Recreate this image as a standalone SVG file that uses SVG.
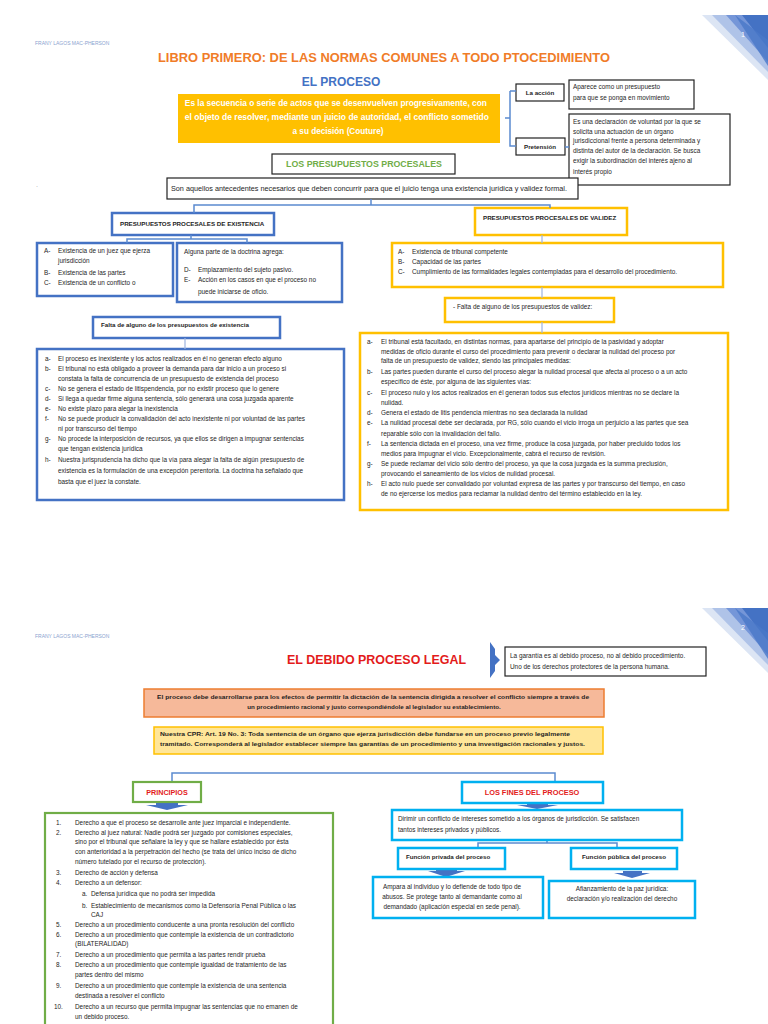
<svg xmlns="http://www.w3.org/2000/svg" width="768" height="1024" viewBox="0 0 768 1024">
<style>
.f{font-family:"Liberation Sans",Arial,sans-serif}
.t{font-family:"Liberation Sans",Arial,sans-serif;font-size:6.4px;fill:#1e1e1e}
.tb{font-family:"Liberation Sans",Arial,sans-serif;font-size:6.2px;fill:#1e1e1e;font-weight:bold}
.au{font-family:"Liberation Sans",Arial,sans-serif;font-size:5px;fill:#8aa3cf}
.pg{font-family:"Liberation Sans",Arial,sans-serif;font-size:7px;fill:#ffffff}
.bk{fill:#fff;stroke:#222;stroke-width:1.2}
.bl{fill:#fff;stroke:#4472C4;stroke-width:2.5}
.gd{fill:#fff;stroke:#FFC000;stroke-width:2.5}
.gr{fill:#fff;stroke:#70AD47;stroke-width:2.2}
.cy{fill:#fff;stroke:#00B0F0;stroke-width:2.5}
.ln{fill:none;stroke:#5B8BD0;stroke-width:1.5}
.lt{fill:none;stroke:#9DB5E0;stroke-width:1.2}
.ar{fill:#4472C4}
.red{font-family:"Liberation Sans",Arial,sans-serif;font-weight:bold;fill:#E31B1B}
</style>
<rect width="768" height="1024" fill="#fff"/>

<!-- Page 1 decoration -->
<g id="decor1">
<polygon points="702,15 768,15 768,80" fill="#DCE5F4"/>
<polygon points="712,15 768,15 768,72" fill="#AFC3E8"/>
<polygon points="726,15 768,15 768,62" fill="#7596D8"/>
<polygon points="742,15 768,15 768,48" fill="#4472C4"/>
<polygon points="735,15 768,40 768,66" fill="#4A78C8" opacity="0.8"/>
<text x="741" y="37" class="pg">1</text>
</g>
<text x="35" y="45" class="au">FRANY LAGOS MAC-PHERSON</text>

<g id="title1">
<text x="384" y="62" class="f" font-size="12.5" font-weight="bold" fill="#F07C28" text-anchor="middle" textLength="452" lengthAdjust="spacingAndGlyphs">LIBRO PRIMERO: DE LAS NORMAS COMUNES A TODO PTOCEDIMIENTO</text>
<text x="341" y="86" class="f" font-size="12" font-weight="bold" fill="#4472C4" text-anchor="middle">EL PROCESO</text>
</g>

<g id="def-proceso">
<rect x="178" y="94" width="322" height="49" fill="#FFC000"/>
<text class="f" font-size="8.2" font-weight="bold" fill="#fff" text-anchor="middle">
<tspan x="337" y="106" textLength="302" lengthAdjust="spacingAndGlyphs">Es la secuencia o serie de actos que se desenvuelven progresivamente, con</tspan>
<tspan x="338" y="120" textLength="304" lengthAdjust="spacingAndGlyphs">el objeto de resolver, mediante un juicio de autoridad, el conflicto sometido</tspan>
<tspan x="338" y="134">a su decisión (Couture)</tspan>
</text>
</g>

<g id="accion">
<rect x="516" y="84" width="48" height="17" class="bk"/>
<text x="540" y="95" class="tb" text-anchor="middle">La acción</text>
</g>
<g id="accion-desc">
<rect x="569" y="80" width="125" height="29" class="bk"/>
<text class="t"><tspan x="573" y="89">Aparece como un presupuesto</tspan><tspan x="573" y="100">para que se ponga en movimiento</tspan></text>
</g>
<g id="pretension">
<rect x="516" y="138" width="49" height="17" class="bk"/>
<text x="540" y="149" class="tb" text-anchor="middle">Pretensión</text>
</g>
<g id="pretension-desc">
<rect x="569" y="114" width="161" height="71" class="bk"/>
<text class="t">
<tspan x="573" y="124">Es una declaración de voluntad por la que se</tspan>
<tspan x="573" y="134">solicita una actuación de un órgano</tspan>
<tspan x="573" y="143">jurisdiccional frente a persona determinada y</tspan>
<tspan x="573" y="153">distinta del autor de la declaración. Se busca</tspan>
<tspan x="573" y="163">exigir la subordinación del interés ajeno al</tspan>
<tspan x="573" y="174">interés propio</tspan>
</text>
</g>

<g id="presupuestos">
<rect x="272" y="154" width="183" height="20" class="bk"/>
<text x="364" y="167" class="f" font-size="8.8" font-weight="bold" fill="#70AD47" text-anchor="middle">LOS PRESUPUESTOS PROCESALES</text>
</g>
<text x="36" y="188" class="f" font-size="6" fill="#666">·</text>
<g id="son-aquellos">
<rect x="167" y="178" width="411" height="21" class="bk"/>
<text x="171" y="191" class="t" textLength="396" lengthAdjust="spacingAndGlyphs">Son aquellos antecedentes necesarios que deben concurrir para que el juicio tenga una existencia jurídica y validez formal.</text>
</g>

<g id="existencia">
<rect x="112" y="213" width="162" height="22" class="bl"/>
<text x="120" y="226" class="tb" font-size="5.8">PRESUPUESTOS PROCESALES DE EXISTENCIA</text>
</g>
<g id="validez">
<rect x="475" y="208" width="152" height="27" class="gd"/>
<text x="483" y="220" class="tb" font-size="5.8">PRESUPUESTOS PROCESALES DE VALIDEZ</text>
</g>

<g id="exist-abc">
<rect x="37" y="243" width="136" height="53" class="bl"/>
<text class="t">
<tspan x="44" y="253">A-</tspan><tspan x="58" y="253">Existencia de un juez que ejerza</tspan>
<tspan x="58" y="263">jurisdicción</tspan>
<tspan x="44" y="275">B-</tspan><tspan x="58" y="275">Existencia de las partes</tspan>
<tspan x="44" y="285">C-</tspan><tspan x="58" y="285">Existencia de un conflicto o</tspan>
</text>
</g>
<g id="exist-de">
<rect x="177" y="243" width="165" height="59" class="bl"/>
<text class="t">
<tspan x="184" y="254">Alguna parte de la doctrina agrega:</tspan>
<tspan x="184" y="272">D-</tspan><tspan x="198" y="272">Emplazamiento del sujeto pasivo.</tspan>
<tspan x="184" y="282">E-</tspan><tspan x="198" y="282">Acción en los casos en que el proceso no</tspan>
<tspan x="198" y="294">puede iniciarse de oficio.</tspan>
</text>
</g>

<g id="valid-abc">
<rect x="392" y="243" width="331" height="44" class="gd"/>
<text class="t">
<tspan x="398" y="254">A-</tspan><tspan x="412" y="254">Existencia de tribunal competente</tspan>
<tspan x="398" y="264">B-</tspan><tspan x="412" y="264">Capacidad de las partes</tspan>
<tspan x="398" y="274">C-</tspan><tspan x="412" y="274">Cumplimiento de las formalidades legales contempladas para el desarrollo del procedimiento.</tspan>
</text>
</g>

<g id="falta-exist">
<rect x="93" y="317" width="187" height="21" class="bl"/>
<text x="101" y="327" class="tb">Falta de alguno de los presupuestos de existencia</text>
</g>
<g id="falta-valid">
<rect x="445" y="298" width="169" height="24" class="gd"/>
<text x="453" y="309" class="t">- Falta de alguno de los presupuestos de validez:</text>
</g>

<g id="exist-list">
<rect x="37" y="349" width="307" height="151" class="bl"/>
<text class="t">
<tspan x="45" y="361">a-</tspan><tspan x="58" y="361">El proceso es inexistente y los actos realizados en él no generan efecto alguno</tspan>
<tspan x="45" y="371">b-</tspan><tspan x="58" y="371">El tribunal no está obligado a proveer la demanda para dar inicio a un proceso si</tspan>
<tspan x="58" y="381">constata la falta de concurrencia de un presupuesto de existencia del proceso</tspan>
<tspan x="45" y="391">c-</tspan><tspan x="58" y="391">No se genera el estado de litispendencia, por no existir proceso que lo genere</tspan>
<tspan x="45" y="401">d-</tspan><tspan x="58" y="401">Si llega a quedar firme alguna sentencia, sólo generará una cosa juzgada aparente</tspan>
<tspan x="45" y="411">e-</tspan><tspan x="58" y="411">No existe plazo para alegar la inexistencia</tspan>
<tspan x="45" y="421">f-</tspan><tspan x="58" y="421">No se puede producir la convalidación del acto inexistente ni por voluntad de las partes</tspan>
<tspan x="58" y="431">ni por transcurso del tiempo</tspan>
<tspan x="45" y="441">g-</tspan><tspan x="58" y="441">No procede la interposición de recursos, ya que ellos se dirigen a impugnar sentencias</tspan>
<tspan x="58" y="451">que tengan existencia jurídica</tspan>
<tspan x="45" y="462">h-</tspan><tspan x="58" y="462">Nuestra jurisprudencia ha dicho que la vía para alegar la falta de algún presupuesto de</tspan>
<tspan x="58" y="473">existencia es la formulación de una excepción perentoria. La doctrina ha señalado que</tspan>
<tspan x="58" y="484">basta que el juez la constate.</tspan>
</text>
</g>

<g id="valid-list">
<rect x="360" y="333" width="368" height="177" class="gd"/>
<text class="t" font-size="6.3">
<tspan x="367" y="344">a-</tspan><tspan x="381" y="344">El tribunal está facultado, en distintas normas, para apartarse del principio de la pasividad y adoptar</tspan>
<tspan x="381" y="354">medidas de oficio durante el curso del procedimiento para prevenir o declarar la nulidad del proceso por</tspan>
<tspan x="381" y="363">falta de un presupuesto de validez, siendo las principales medidas:</tspan>
<tspan x="367" y="374">b-</tspan><tspan x="381" y="374">Las partes pueden durante el curso del proceso alegar la nulidad procesal que afecta al proceso o a un acto</tspan>
<tspan x="381" y="384">específico de éste, por alguna de las siguientes vías:</tspan>
<tspan x="367" y="395">c-</tspan><tspan x="381" y="395">El proceso nulo y los actos realizados en él generan todos sus efectos jurídicos mientras no se declare la</tspan>
<tspan x="381" y="405">nulidad.</tspan>
<tspan x="367" y="415">d-</tspan><tspan x="381" y="415">Genera el estado de litis pendencia mientras no sea declarada la nulidad</tspan>
<tspan x="367" y="425">e-</tspan><tspan x="381" y="425">La nulidad procesal debe ser declarada, por RG, sólo cuando el vicio irroga un perjuicio a las partes que sea</tspan>
<tspan x="381" y="436">reparable sólo con la invalidación del fallo.</tspan>
<tspan x="367" y="446">f-</tspan><tspan x="381" y="446">La sentencia dictada en el proceso, una vez firme, produce la cosa juzgada, por haber precluido todos los</tspan>
<tspan x="381" y="456">medios para impugnar el vicio. Excepcionalmente, cabrá el recurso de revisión.</tspan>
<tspan x="367" y="466">g-</tspan><tspan x="381" y="466">Se puede reclamar del vicio sólo dentro del proceso, ya que la cosa juzgada es la summa preclusión,</tspan>
<tspan x="381" y="476">provocando el saneamiento de los vicios de nulidad procesal.</tspan>
<tspan x="367" y="486">h-</tspan><tspan x="381" y="486">El acto nulo puede ser convalidado por voluntad expresa de las partes y por transcurso del tiempo, en caso</tspan>
<tspan x="381" y="496">de no ejercerse los medios para reclamar la nulidad dentro del término establecido en la ley.</tspan>
</text>
</g>

<!-- Page 2 -->
<g id="decor2">
<polygon points="702,608 768,608 768,673" fill="#DCE5F4"/>
<polygon points="712,608 768,608 768,665" fill="#AFC3E8"/>
<polygon points="726,608 768,608 768,655" fill="#7596D8"/>
<polygon points="742,608 768,608 768,641" fill="#4472C4"/>
<polygon points="735,608 768,633 768,659" fill="#4A78C8" opacity="0.8"/>
<text x="741" y="630" class="pg">2</text>
</g>
<text x="35" y="638" class="au">FRANY LAGOS MAC-PHERSON</text>

<g id="title2">
<text x="287" y="664" class="red" font-size="12" textLength="179" lengthAdjust="spacingAndGlyphs">EL DEBIDO PROCESO LEGAL</text>
<path d="M490,642 L495,649 L495,655 L500,660 L495,665 L495,671 L490,678 Z" fill="#4472C4"/>
</g>
<g id="garantia">
<rect x="505" y="647" width="201" height="29" class="bk"/>
<text class="t"><tspan x="510" y="658">La garantía es al debido proceso, no al debido procedimiento.</tspan><tspan x="510" y="669">Uno de los derechos protectores de la persona humana.</tspan></text>
</g>

<g id="desarrollo">
<rect x="144" y="689" width="460" height="28" fill="#F6B99A" stroke="#ED7D31" stroke-width="1.5"/>
<text class="tb" text-anchor="middle" font-size="6">
<tspan x="374" y="699" textLength="432" lengthAdjust="spacingAndGlyphs">El proceso debe desarrollarse para los efectos de permitir la dictación de la sentencia dirigida a resolver el conflicto siempre a través de</tspan>
<tspan x="374" y="709">un procedimiento racional y justo correspondiéndole al legislador su establecimiento.</tspan>
</text>
</g>
<g id="cpr">
<rect x="154" y="727" width="449" height="27" fill="#FFE699" stroke="#FFC000" stroke-width="1.5"/>
<text class="tb" font-size="6">
<tspan x="160" y="736" textLength="410" lengthAdjust="spacingAndGlyphs">Nuestra CPR: Art. 19 No. 3: Toda sentencia de un órgano que ejerza jurisdicción debe fundarse en un proceso previo legalmente</tspan>
<tspan x="160" y="746" textLength="425" lengthAdjust="spacingAndGlyphs">tramitado. Corresponderá al legislador establecer siempre las garantías de un procedimiento y una investigación racionales y justos.</tspan>
</text>
</g>

<g id="connectors">
<path class="ln" d="M510,91 L516,91 M510,91 L510,146 L516,146 M510,118 L505,118 M565,147 L569,147"/>
<path class="ln" d="M371,199 L371,205 M194,213 L194,205 L550,205 L550,208"/>
<path class="ln" d="M191,235 L191,239 M127,243 L127,239 L247,239 L247,243"/>
<path class="lt" d="M542,235 L542,243 M542,287 L542,298 M542,322 L542,333 M185,338 L185,349"/>
<path class="ln" d="M172,782 L172,773 L555,773 L555,782"/>
<path class="ln" d="M547,840 L547,843 M478,848 L478,843 L617,843 L617,848"/>
<polygon class="ar" points="156,803 178,803 178,805 188,805 167,810 146,805 156,805"/>
<polygon class="ar" points="527,803 548,803 548,805 558,805 537,809 517,805 527,805"/>
<polygon class="ar" points="436,869 457,869 457,871 465,871 446,877 428,871 436,871"/>
<polygon class="ar" points="623,871 642,871 642,873 650,873 632,878 614,873 623,873"/>
</g>

<g id="principios">
<rect x="133" y="782" width="68" height="20" class="gr"/>
<text x="167" y="795" class="red" font-size="7.2" text-anchor="middle">PRINCIPIOS</text>
</g>
<g id="principios-list">
<rect x="45" y="813" width="288" height="220" class="gr"/>
<text class="t" font-size="6.5">
<tspan x="56" y="825">1.</tspan><tspan x="75" y="825">Derecho a que el proceso se desarrolle ante juez imparcial e independiente.</tspan>
<tspan x="56" y="835">2.</tspan><tspan x="75" y="835">Derecho al juez natural: Nadie podrá ser juzgado por comisiones especiales,</tspan>
<tspan x="75" y="844">sino por el tribunal que señalare la ley y que se hallare establecido por ésta</tspan>
<tspan x="75" y="854">con anterioridad a la perpetración del hecho (se trata del único inciso de dicho</tspan>
<tspan x="75" y="864">número tutelado por el recurso de protección).</tspan>
<tspan x="56" y="875">3.</tspan><tspan x="75" y="875">Derecho de acción y defensa</tspan>
<tspan x="56" y="885">4.</tspan><tspan x="75" y="885">Derecho a un defensor:</tspan>
<tspan x="82" y="896">a.</tspan><tspan x="91" y="896">Defensa jurídica que no podrá ser impedida</tspan>
<tspan x="82" y="908">b.</tspan><tspan x="91" y="908">Establecimiento de mecanismos como la Defensoría Penal Pública o las</tspan>
<tspan x="91" y="917">CAJ</tspan>
<tspan x="56" y="927">5.</tspan><tspan x="75" y="927">Derecho a un procedimiento conducente a una pronta resolución del conflicto</tspan>
<tspan x="56" y="937">6.</tspan><tspan x="75" y="937">Derecho a un procedimiento que contemple la existencia de un contradictorio</tspan>
<tspan x="75" y="946">(BILATERALIDAD)</tspan>
<tspan x="56" y="957">7.</tspan><tspan x="75" y="957">Derecho a un procedimiento que permita a las partes rendir prueba</tspan>
<tspan x="56" y="967">8.</tspan><tspan x="75" y="967">Derecho a un procedimiento que contemple igualdad de tratamiento de las</tspan>
<tspan x="75" y="977">partes dentro del mismo</tspan>
<tspan x="56" y="988">9.</tspan><tspan x="75" y="988">Derecho a un procedimiento que contemple la existencia de una sentencia</tspan>
<tspan x="75" y="998">destinada a resolver el conflicto</tspan>
<tspan x="54" y="1009">10.</tspan><tspan x="75" y="1009">Derecho a un recurso que permita impugnar las sentencias que no emanen de</tspan>
<tspan x="75" y="1019">un debido proceso.</tspan>
</text>
</g>

<g id="fines">
<rect x="462" y="782" width="141" height="21" class="cy"/>
<text x="532" y="795" class="red" font-size="7.4" text-anchor="middle">LOS FINES DEL PROCESO</text>
</g>
<g id="dirimir">
<rect x="392" y="810" width="290" height="30" class="cy"/>
<text class="t" font-size="6.3"><tspan x="398" y="821">Dirimir un conflicto de intereses sometido a los órganos de jurisdicción. Se satisfacen</tspan><tspan x="398" y="832">tantos intereses privados y públicos.</tspan></text>
</g>
<g id="funcion-privada">
<rect x="398" y="848" width="107" height="21" class="cy"/>
<text x="406" y="859" class="tb" font-size="6">Función privada del proceso</text>
</g>
<g id="funcion-publica">
<rect x="571" y="848" width="106" height="21" class="cy"/>
<text x="624" y="859" class="tb" font-size="6" text-anchor="middle">Función pública del proceso</text>
</g>
<g id="ampara">
<rect x="373" y="877" width="170" height="41" class="cy"/>
<text class="t" font-size="6.3" text-anchor="middle"><tspan x="452" y="889">Ampara al individuo y lo defiende de todo tipo de</tspan><tspan x="452" y="899">abusos. Se protege tanto al demandante como al</tspan><tspan x="452" y="909">demandado (aplicación especial en sede penal).</tspan></text>
</g>
<g id="afianzamiento">
<rect x="549" y="881" width="146" height="37" class="cy"/>
<text class="t" font-size="6.3" text-anchor="middle"><tspan x="622" y="891">Afianzamiento de la paz jurídica:</tspan><tspan x="622" y="901">declaración y/o realización del derecho</tspan></text>
</g>
</svg>
